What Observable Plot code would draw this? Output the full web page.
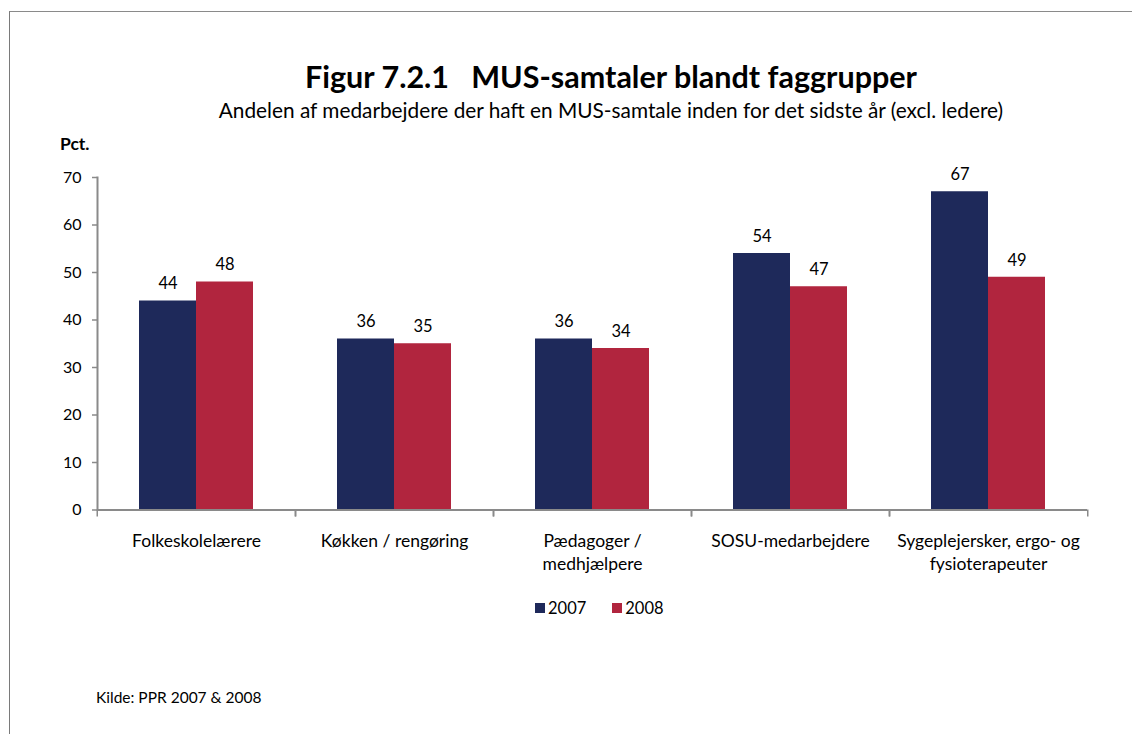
<!DOCTYPE html>
<html><head><meta charset="utf-8">
<script src="https://cdn.jsdelivr.net/npm/d3@7"></script>
<script src="https://cdn.jsdelivr.net/npm/@observablehq/plot@0.6"></script>
<style>
html,body{margin:0;padding:0;overflow:hidden;}
body{background:#fff;font-family:Lato,"DejaVu Sans",sans-serif;color:#000;}
#page{position:relative;width:1132px;height:734px;overflow:hidden;background:#fff;}
#frame{position:absolute;left:9px;top:11px;width:1300px;height:900px;border-left:1.5px solid #7a7a7a;border-top:1.5px solid #8a8a8a;}
#title{position:absolute;left:111px;width:1000px;top:58px;line-height:36px;text-align:center;font-weight:bold;font-size:30.5px;white-space:pre;}
#subtitle{position:absolute;left:111px;width:1000px;top:97px;line-height:25px;text-align:center;font-size:20.8px;}
#pct{position:absolute;left:60px;top:133px;line-height:22px;font-weight:bold;font-size:17.5px;}
#chart{position:absolute;left:0;top:130px;}
#legend{position:absolute;left:535px;top:597px;line-height:22px;font-size:16.5px;display:flex;align-items:center;}
#legend .sw{display:inline-block;width:10px;height:10px;margin-right:3px;}
#legend .it{display:flex;align-items:center;margin-right:26px;}
#caption{position:absolute;left:96px;top:687px;line-height:20px;font-size:15.5px;}
</style></head>
<body><div id="page">
<div id="frame"></div>
<div id="title">Figur 7.2.1   MUS-samtaler blandt faggrupper</div>
<div id="subtitle">Andelen af medarbejdere der haft en MUS-samtale inden for det sidste år (excl. ledere)</div>
<div id="pct">Pct.</div>
<div id="chart"></div>
<div id="legend"></div>
<div id="caption">Kilde: PPR 2007 &amp; 2008</div>
</div>
<script>
const categories = ["Folkeskolelærere","Køkken / rengøring","Pædagoger / medhjælpere","SOSU-medarbejdere","Sygeplejersker, ergo- og fysioterapeuter"];
const categoryLabels = ["Folkeskolelærere","Køkken / rengøring","Pædagoger /\nmedhjælpere","SOSU-medarbejdere","Sygeplejersker, ergo- og\nfysioterapeuter"];
const years = ["2007","2008"];
const values2007 = [44,36,36,54,67];
const values2008 = [48,35,34,47,49];
const yTicks = [0,10,20,30,40,50,60,70];
const colors = ["#1E295A","#B1253E"];

const data = categories.flatMap((c,i)=>[
  {cat:c, year:years[0], value:values2007[i]},
  {cat:c, year:years[1], value:values2008[i]}
]);
const labelOf = new Map(categories.map((c,i)=>[c, categoryLabels[i]]));

const W=1132, H=460, mL=96, mR=43.5, mT=47, mB=80.5;
const step = (W-mL-mR)/categories.length;
const axisColor = "#8a8a8a";

const plot = Plot.plot({
  width: W, height: H, marginLeft: mL, marginRight: mR, marginTop: mT, marginBottom: mB,
  style: {fontFamily: "Lato, sans-serif", fontSize: "16px", color: "#000", background: "transparent"},
  fx: {domain: categories, padding: 0, label: null, axis: null},
  x: {domain: years, paddingInner: 0, paddingOuter: 0.726, axis: null},
  y: {domain: [0,70], label: null, axis: null},
  color: {domain: years, range: colors},
  marks: [
    Plot.barY(data, {fx:"cat", x:"year", y:"value", fill:"year"}),
    Plot.text(data, {fx:"cat", x:"year", y:"value", text:d=>String(d.value), dy:-17, fontSize:16.5, fill:"#000"}),
    Plot.ruleY([0], {stroke: axisColor, strokeWidth: 2}),
    Plot.frame({anchor:"left", facet:"super", stroke: axisColor, strokeWidth: 2}),
    Plot.axisY({ticks: yTicks, tickSize: 5, tickPadding: 11, fontSize: 16, stroke: axisColor, strokeWidth: 1.5, label: null, color:"#000"}),
    Plot.axisFx({anchor:"bottom", tickSize: 7, tickFormat: null, dx: -step/2, stroke: axisColor, strokeWidth: 1.5, label: null}),
    Plot.axisFx({anchor:"bottom", tickSize: 7, tickFormat: null, dx: step/2, stroke: axisColor, strokeWidth: 1.5, label: null}),
    Plot.axisFx({anchor:"bottom", tickSize: 0, tickPadding: 20, tickFormat: c=>labelOf.get(c), fontSize: 17.5, lineHeight: 1.33, label: null})
  ]
});
document.getElementById("chart").appendChild(plot);

const legend = document.getElementById("legend");
years.forEach((y,i)=>{
  const it = document.createElement("span"); it.className="it";
  const sw = document.createElement("span"); sw.className="sw"; sw.style.background = colors[i];
  it.appendChild(sw); it.appendChild(document.createTextNode(y));
  legend.appendChild(it);
});
</script>
</body></html>
